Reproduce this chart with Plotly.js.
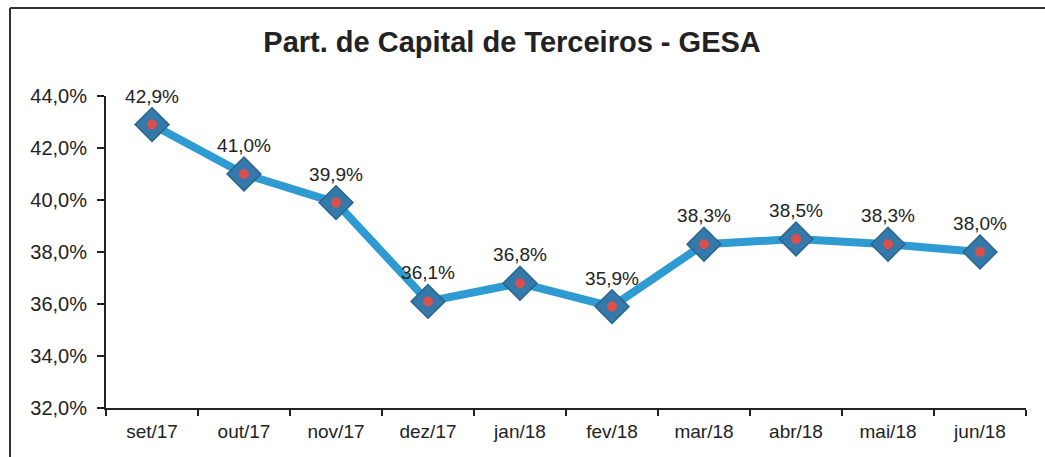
<!DOCTYPE html>
<html>
<head>
<meta charset="utf-8">
<script src="https://cdn.plot.ly/plotly-3.0.1.min.js"></script>
<style>
html,body{margin:0;padding:0;background:#fff;}
#chart{width:1045px;height:457px;}
</style>
</head>
<body>
<div id="chart"></div>
<script>
const categories = ["set/17","out/17","nov/17","dez/17","jan/18","fev/18","mar/18","abr/18","mai/18","jun/18"];
const values = [42.9, 41.0, 39.9, 36.1, 36.8, 35.9, 38.3, 38.5, 38.3, 38.0];
const yTicks = [32, 34, 36, 38, 40, 42, 44];
const yTickLabels = ["32,0%", "34,0%", "36,0%", "38,0%", "40,0%", "42,0%", "44,0%"];
const chartTitle = "Part. de Capital de Terceiros - GESA";

const fontFam = "'Liberation Sans', Arial, sans-serif";

const traces = [
  {
    x: categories, y: values, type: 'scatter', mode: 'lines+markers+text',
    line: {color: '#2E9BD3', width: 8},
    marker: {symbol: 'diamond', size: 26, color: '#3479AA', line: {color: '#2A6590', width: 1.5}},
    text: values, texttemplate: '%{y:.1f}%', textposition: 'top center',
    textfont: {family: fontFam, size: 19, color: '#222'},
    hoverinfo: 'skip', cliponaxis: false
  },
  {
    x: categories, y: values, type: 'scatter', mode: 'markers',
    marker: {symbol: 'circle', size: 10, color: '#D9504E', line: {width: 0}},
    hoverinfo: 'skip', cliponaxis: false
  }
];

const layout = {
  width: 1045, height: 457,
  margin: {l: 106, r: 19, t: 96, b: 49},
  paper_bgcolor: '#fff', plot_bgcolor: '#fff',
  separators: ',.',
  showlegend: false,
  title: {text: chartTitle, x: 0.490, xref: 'container', xanchor: 'center', y: 0.908, yref: 'container', yanchor: 'middle',
          font: {family: fontFam, size: 29, color: '#222', weight: 'bold'}},
  xaxis: {
    type: 'category', range: [-0.5, 9.5], tickson: 'boundaries',
    ticks: 'outside', ticklen: 6, tickcolor: '#222', tickwidth: 1.5,
    showline: true, linecolor: '#222', linewidth: 2, showgrid: false, zeroline: false,
    ticklabelstandoff: 5,
    tickfont: {family: fontFam, size: 19, color: '#222'}
  },
  yaxis: {
    range: [32, 44], tickvals: yTicks, ticktext: yTickLabels,
    ticks: 'outside', ticklen: 7, tickcolor: '#222', tickwidth: 1.5,
    showline: true, linecolor: '#222', linewidth: 2, showgrid: false, zeroline: false,
    ticklabelstandoff: 6,
    tickfont: {family: fontFam, size: 20, color: '#222'}
  },
  shapes: [
    {type: 'line', xref: 'paper', yref: 'paper', x0: -96/920, x1: 1 + 19/920, y0: 1 + 88/312, y1: 1 + 88/312, line: {color: '#333', width: 2}},
    {type: 'line', xref: 'paper', yref: 'paper', x0: -96/920, x1: -96/920, y0: 1 + 88/312, y1: -49/312, line: {color: '#333', width: 2}}
  ]
};

Plotly.newPlot('chart', traces, layout, {displayModeBar: false, staticPlot: true});
</script>
</body>
</html>
